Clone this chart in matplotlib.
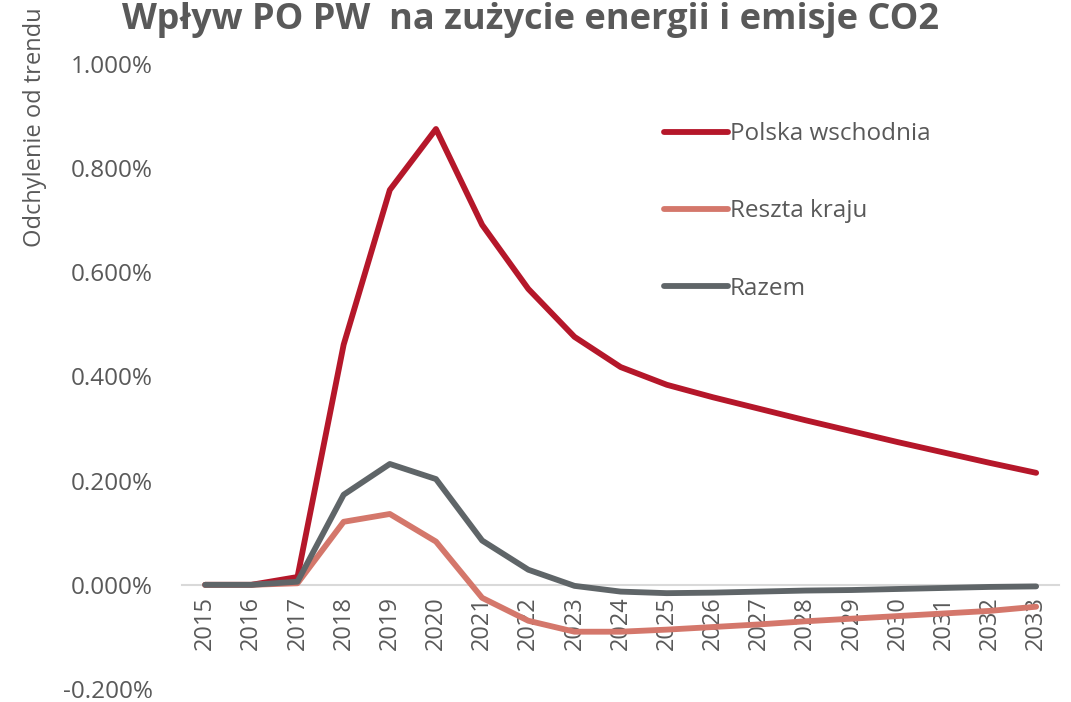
import numpy as np
import matplotlib
matplotlib.use("Agg")
import matplotlib.pyplot as plt
from matplotlib.ticker import FuncFormatter

# dane (odchylenie od trendu, w %)
lata = [str(r) for r in range(2015, 2034)]
polska_wsch = [0.0, 0.0, 0.015, 0.461, 0.758, 0.875, 0.691, 0.568, 0.476, 0.418,
               0.384, 0.360, 0.338, 0.316, 0.295, 0.274, 0.254, 0.234, 0.215]
reszta_kraju = [0.0, 0.0, 0.003, 0.121, 0.136, 0.083, -0.025, -0.069, -0.090, -0.090,
                -0.086, -0.081, -0.076, -0.070, -0.065, -0.060, -0.055, -0.050, -0.042]
razem = [0.0, 0.0, 0.006, 0.173, 0.232, 0.203, 0.085, 0.029, -0.002, -0.013,
         -0.016, -0.015, -0.013, -0.011, -0.010, -0.008, -0.006, -0.004, -0.003]

plt.rcParams['font.family'] = ['Open Sans', 'DejaVu Sans']
szary = '#595959'

fig = plt.figure(figsize=(10.71, 7.02), dpi=100)
ax = fig.add_axes([0.170, 0.0185, 0.819, 0.8905])

x = np.arange(len(lata))
ax.plot(x, polska_wsch, color='#B5172A', lw=4.2, solid_capstyle='round', label='Polska wschodnia')
ax.plot(x, reszta_kraju, color='#D4776B', lw=4.2, solid_capstyle='round', label='Reszta kraju')
ax.plot(x, razem, color='#5F6568', lw=4.2, solid_capstyle='round', label='Razem')

ax.set_xlim(-0.5, len(lata) - 0.5)
ax.set_ylim(-0.2, 1.0)
ax.set_yticks(np.arange(-0.2, 1.01, 0.2))
ax.yaxis.set_major_formatter(FuncFormatter(lambda v, p: f"{v:.3f}%"))
ax.set_xticks(x)
ax.set_xticklabels(lata)

for s in ['top', 'right', 'left']:
    ax.spines[s].set_visible(False)
ax.spines['bottom'].set_position(('data', 0))
ax.spines['bottom'].set_color('#D9D9D9')
ax.spines['bottom'].set_linewidth(1.5)
ax.spines['bottom'].set_zorder(0)

ax.tick_params(axis='x', length=0, labelsize=17, labelcolor=szary, pad=8, labelrotation=90)
ax.tick_params(axis='y', length=0, labelsize=17.5, labelcolor=szary, pad=21)

fig.text(0.033, 0.99, 'Odchylenie od trendu', rotation=90, ha='center', va='top',
         fontsize=17, color=szary)
fig.text(0.495, 0.958, 'Wpływ PO PW  na zużycie energii i emisje CO2', ha='center',
         va='baseline', fontsize=26, fontweight='bold', color=szary)

leg = ax.legend(loc='upper left', bbox_to_anchor=(0.525, 0.942), frameon=False,
                fontsize=17.5, labelspacing=2.2, handlelength=2.6, handletextpad=0.1)
for t in leg.get_texts():
    t.set_color(szary)

fig.savefig('out.png', dpi=100)
